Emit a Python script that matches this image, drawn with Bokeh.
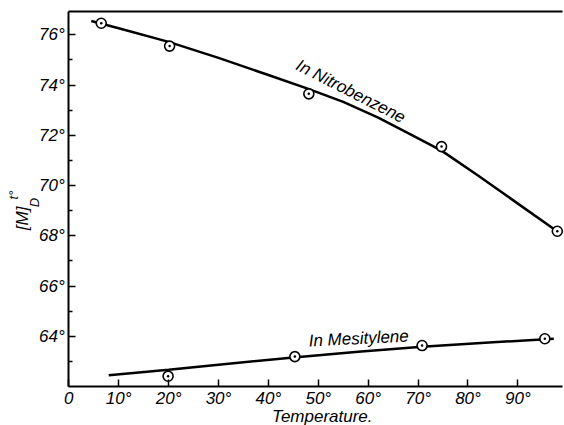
import math
from bokeh.plotting import figure
from bokeh.models import FixedTicker, Label, LinearAxis
from bokeh.embed import file_html
from bokeh.resources import INLINE

# ---- data ----
nitro_x = [6.5, 20.2, 48.1, 74.7, 97.9]
nitro_y = [76.46, 75.55, 73.65, 71.55, 68.18]
nitro_curve_x = [4.5, 10, 20, 30, 40, 48, 55, 62, 68, 74.7, 82, 90, 98]
nitro_curve_y = [76.55, 76.26, 75.72, 75.08, 74.40, 73.85, 73.33, 72.70, 72.09, 71.39, 70.40, 69.28, 68.16]

mesit_x = [19.9, 45.3, 70.8, 95.4]
mesit_y = [62.41, 63.19, 63.63, 63.90]
mesit_curve_x = [8, 20, 30, 45, 58, 70.8, 85, 97.2]
mesit_curve_y = [62.45, 62.67, 62.87, 63.15, 63.38, 63.58, 63.76, 63.90]

x_ticks = [0, 10, 20, 30, 40, 50, 60, 70, 80, 90]
x_tick_labels = ["0", "10°", "20°", "30°", "40°", "50°", "60°", "70°", "80°", "90°"]
y_ticks = [64, 66, 68, 70, 72, 74, 76]
y_tick_labels = ["64°", "66°", "68°", "70°", "72°", "74°", "76°"]
y_minor = [63, 65, 67, 69, 71, 73, 75]

# axis extents of the drawn box
X_AXIS_END = 98.9
Y_AXIS_MIN, Y_AXIS_MAX = 62, 76.93
# visible window (frame covers whole canvas, axes are placed inside)
VIEW_X = (-13.69, 99.34)
VIEW_Y = (60.447, 77.366)
FONT = "Liberation Sans"

p = figure(width=564, height=425, x_range=VIEW_X, y_range=VIEW_Y,
           output_backend="svg", toolbar_location=None,
           x_axis_location=None, y_axis_location=None,
           min_border_left=0, min_border_right=0, min_border_top=0, min_border_bottom=0)
p.grid.visible = False
p.outline_line_color = None
p.background_fill_color = "white"
p.border_fill_color = "white"

# x axis (bottom)
xa = LinearAxis(fixed_location=Y_AXIS_MIN, bounds=(0, X_AXIS_END))
xa.ticker = FixedTicker(ticks=x_ticks, minor_ticks=[])
xa.major_label_overrides = {t: l for t, l in zip(x_ticks, x_tick_labels)}
xa.major_tick_in = 7
xa.major_tick_out = 0
xa.minor_tick_line_color = None
xa.axis_line_width = 2
xa.major_tick_line_width = 1.5
xa.major_label_standoff = 3
xa.major_label_text_font = FONT
xa.major_label_text_font_style = "italic"
xa.major_label_text_font_size = "17px"
xa.major_label_text_color = "black"
p.add_layout(xa, "below")

# y axis (left)
ya = LinearAxis(fixed_location=0, bounds=(Y_AXIS_MIN, Y_AXIS_MAX))
ya.ticker = FixedTicker(ticks=y_ticks, minor_ticks=y_minor)
ya.major_label_overrides = {t: l for t, l in zip(y_ticks, y_tick_labels)}
ya.major_tick_in = 7
ya.major_tick_out = 0
ya.minor_tick_in = 4
ya.minor_tick_out = 0
ya.axis_line_width = 2
ya.major_tick_line_width = 1.5
ya.minor_tick_line_width = 1.5
ya.major_label_standoff = 4
ya.major_label_text_font = FONT
ya.major_label_text_font_style = "italic"
ya.major_label_text_font_size = "17px"
ya.major_label_text_color = "black"
p.add_layout(ya, "left")

# top border line (axis line only)
ta = LinearAxis(fixed_location=Y_AXIS_MAX, bounds=(0, X_AXIS_END))
ta.ticker = FixedTicker(ticks=[], minor_ticks=[])
ta.axis_line_width = 2
ta.major_tick_line_color = None
ta.minor_tick_line_color = None
ta.major_label_text_color = None
p.add_layout(ta, "above")

# curves
p.line(nitro_curve_x, nitro_curve_y, line_color="black", line_width=2.5)
p.line(mesit_curve_x, mesit_curve_y, line_color="black", line_width=2.5)

# points
for xs, ys in ((nitro_x, nitro_y), (mesit_x, mesit_y)):
    p.scatter(xs, ys, marker="circle_dot", size=10, fill_color="white",
              line_color="black", line_width=1.6)


def lab(x, y, text, size, angle=0.0):
    p.add_layout(Label(x=x, y=y, text=text, angle=angle,
                       text_align="center", text_baseline="middle",
                       text_font=FONT, text_font_style="italic",
                       text_font_size=size, text_color="black"))


# curve labels
lab(56.5, 73.75, "In Nitrobenzene", "17px", -0.47)
lab(58.1, 63.91, "In Mesitylene", "17px", 0.05)

# x-axis title
lab(50.8, 60.81, "Temperature.", "17px")

# y-axis label [M]_D^t°
lab(-9.28, 68.69, "[M]", "17px", math.pi / 2)
lab(-6.97, 69.32, "D", "13px", math.pi / 2)
lab(-11.18, 69.62, "t°", "13px", math.pi / 2)

open("out.html", "w").write(file_html(p, INLINE))
